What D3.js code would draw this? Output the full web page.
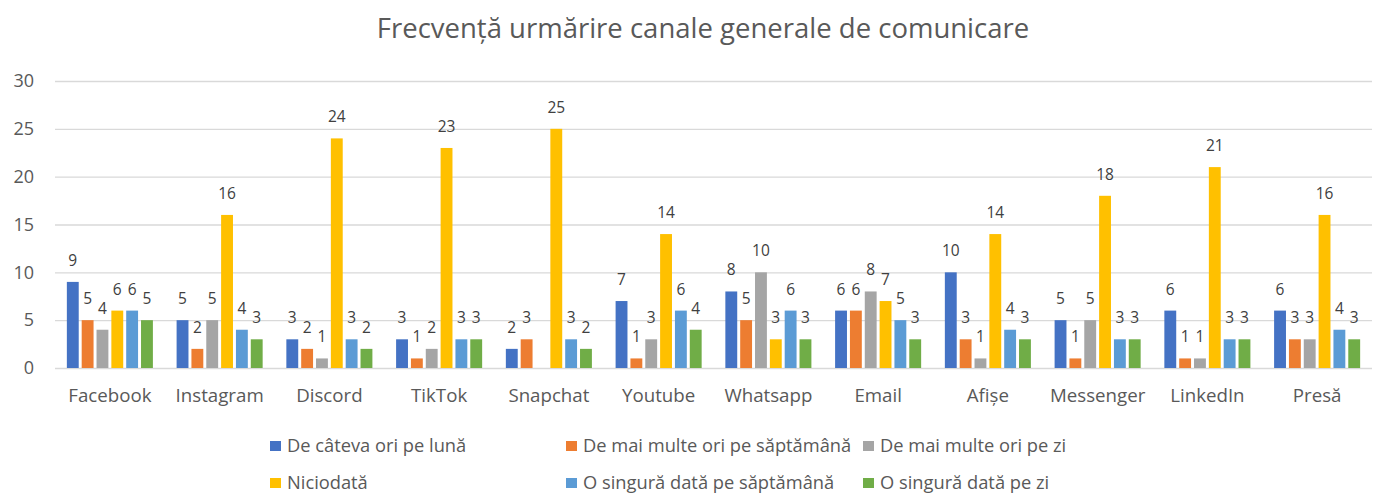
<!DOCTYPE html>
<html><head><meta charset="utf-8">
<script src="https://cdn.jsdelivr.net/npm/d3@7"></script>
<style>body{margin:0;background:#fff;}svg{display:block;font-family:"Open Sans","Noto Sans",sans-serif;}</style>
</head><body>
<svg id="c" width="1379" height="496"></svg>
<script>
const categories = ["Facebook","Instagram","Discord","TikTok","Snapchat","Youtube","Whatsapp","Email","Afișe","Messenger","LinkedIn","Presă"];
const seriesNames = ["De câteva ori pe lună","De mai multe ori pe săptămână","De mai multe ori pe zi","Niciodată","O singură dată pe săptămână","O singură dată pe zi"];
const seriesColors = ["#4472C4","#ED7D31","#A5A5A5","#FFC000","#5B9BD5","#70AD47"];
const deCateva      = [9,5,3,3,2,7,8,6,10,5,6,6];
const maiMulteSapt  = [5,2,2,1,3,1,5,6,3,1,1,3];
const maiMulteZi    = [4,5,1,2,null,3,10,8,1,5,1,3];
const niciodata     = [6,16,24,23,25,14,3,7,14,18,21,16];
const singuraSapt   = [6,4,3,3,3,6,6,5,4,3,3,4];
const singuraZi     = [5,3,2,3,2,4,3,3,3,3,3,3];
const yTicks = [0,5,10,15,20,25,30];
const title = "Frecvență urmărire canale generale de comunicare";

const series = [deCateva, maiMulteSapt, maiMulteZi, niciodata, singuraSapt, singuraZi];
const svg = d3.select("#c");
const L = 55, R = 1372, T = 81, B = 368;

const x0 = d3.scaleBand().domain(categories).range([L, R]).paddingInner(0.216).paddingOuter(0.108);
const x1 = d3.scaleBand().domain(d3.range(6)).range([0, x0.bandwidth()]).paddingInner(0.2);
const y = d3.scaleLinear().domain([0, 30]).range([B, T]);

svg.append("text").attr("x", 703).attr("y", 38).attr("text-anchor", "middle")
  .attr("font-size", 27.5).attr("fill", "#595959").text(title);

const yAxis = d3.axisLeft(y).tickValues(yTicks).tickSize(-(R - L)).tickPadding(21);
const gy = svg.append("g").attr("transform", `translate(${L},0)`).call(yAxis);
gy.select(".domain").remove();
gy.selectAll(".tick line").attr("stroke", "#D9D9D9").attr("stroke-width", 1.4);
gy.selectAll(".tick text").attr("font-size", 18).attr("fill", "#595959").attr("font-family", "Open Sans");

const xAxis = d3.axisBottom(x0).tickSize(0).tickPadding(21);
const gx = svg.append("g").attr("transform", `translate(0,${B})`).call(xAxis);
gx.select(".domain").remove();
gx.selectAll(".tick text").attr("font-size", 18.7).attr("fill", "#595959").attr("font-family", "Open Sans");

const data = [];
categories.forEach((c, i) => series.forEach((s, j) => { if (s[i] != null) data.push({c, j, v: s[i]}); }));

svg.append("g").selectAll("rect").data(data).join("rect")
  .attr("x", d => x0(d.c) + x1(d.j)).attr("width", x1.bandwidth())
  .attr("y", d => y(d.v)).attr("height", d => y(0) - y(d.v))
  .attr("fill", d => seriesColors[d.j]);

svg.append("g").selectAll("text").data(data).join("text")
  .attr("x", d => x0(d.c) + x1(d.j) + x1.bandwidth() / 2)
  .attr("y", d => y(d.v) - 16)
  .attr("text-anchor", "middle").attr("font-size", 15.5).attr("fill", "#404040")
  .text(d => d.v);

const legX = [270, 566, 863, 270, 566, 863];
const legY = [446, 446, 446, 483, 483, 483];
const lg = svg.append("g").selectAll("g").data(seriesNames).join("g")
  .attr("transform", (d, i) => `translate(${legX[i]},${legY[i]})`);
lg.append("rect").attr("x", 0).attr("y", -5).attr("width", 11).attr("height", 10).attr("fill", (d, i) => seriesColors[i]);
lg.append("text").attr("x", 17).attr("y", 0).attr("dy", "0.35em").attr("font-size", 18.3).attr("fill", "#595959").text(d => d);
</script>
</body></html>
